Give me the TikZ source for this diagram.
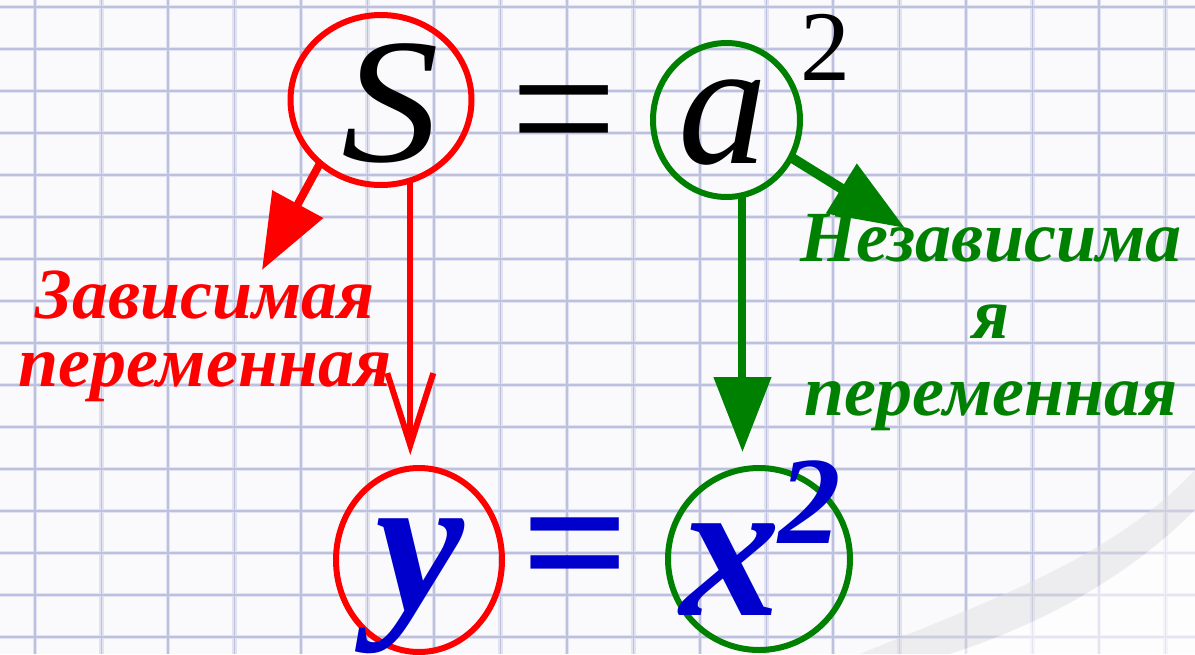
\documentclass[tikz,border=0pt]{standalone}
\usepackage{fontspec}
\setmainfont{LiberationSerif}[Extension=.ttf,UprightFont=*-Regular,ItalicFont=*-Italic,BoldFont=*-Bold,BoldItalicFont=*-BoldItalic]
\usetikzlibrary{shapes.geometric,arrows.meta,calc}
\definecolor{paper}{RGB}{250,250,253}
\definecolor{gridblue}{RGB}{190,192,224}
\definecolor{depred}{RGB}{255,0,0}
\definecolor{indgreen}{RGB}{0,128,0}
\definecolor{fnblue}{RGB}{0,0,204}
\begin{document}
\begin{tikzpicture}[x=1pt,y=-1pt,
  ring/.style={ellipse,draw,line width=6pt,inner sep=0pt,outer sep=0pt},
  bigvar/.style={inner sep=0pt,outer sep=0pt,anchor=base,font=\itshape\fontsize{178}{178}\selectfont},
  fnvar/.style={inner sep=0pt,outer sep=0pt,anchor=base,text=fnblue,font=\bfseries\itshape\fontsize{200}{200}\selectfont},
  caption/.style={inner sep=0pt,outer sep=0pt,align=center},
  gridline/.style={draw=gridblue,line width=1.6pt},
  gridhalo/.style={draw=gridblue!45,line width=4.5pt},
  fatarrow/.style={line width=8pt,-{Triangle[length=75pt,width=56pt]}}]
\useasboundingbox (0,0) rectangle (1195,654);
\clip (0,0) rectangle (1195,654);
\fill[paper] (0,0) rectangle (1195,654);
% squared paper
\foreach \gx in {0,...,17} \draw[gridhalo] ({35+66.5*\gx},0) -- ({35+66.5*\gx},654);
\foreach \gy in {0,...,15} \draw[gridhalo] (0,{7+42*\gy}) -- (1195,{7+42*\gy});
\foreach \gx in {0,...,17} \draw[gridline] ({35+66.5*\gx},0) -- ({35+66.5*\gx},654);
\foreach \gy in {0,...,15} \draw[gridline] (0,{7+42*\gy}) -- (1195,{7+42*\gy});
% page curl
\fill[gray!25,opacity=.45] (860,654) .. controls (990,600) and (1110,560) .. (1195,470) -- (1195,510) .. controls (1120,585) and (1030,628) .. (950,654) -- cycle;
\fill[white,opacity=.6] (950,654) .. controls (1030,628) and (1120,585) .. (1195,510) -- (1195,654) -- cycle;
% S = a^2
\node[ring,draw=depred,minimum width=181pt,minimum height=170pt] (sRing) at (381,100) {};
\node[ring,draw=indgreen,minimum width=147pt,minimum height=154pt] (aRing) at (726.5,120) {};
\node[bigvar] (sVar) at (390,161) {\scalebox{1.1}[1]{S}};
\node[bigvar,font=\fontsize{190}{190}\selectfont] (eqTop) at (564,172) {=};
\node[bigvar] (aVar) at (723,163) {a};
\node[bigvar,font=\fontsize{100}{100}\selectfont] (aPow) at (825,80) {2};
% y = x^2
\node[ring,draw=depred,minimum width=166pt,minimum height=184pt] (yRing) at (419,560) {};
\node[ring,draw=indgreen,minimum width=182pt,minimum height=182pt] (xRing) at (759,559) {};
\node[fnvar] (yVar) at (420,610) {y};
\node[fnvar,font=\bfseries\fontsize{190}{190}\selectfont] (eqBot) at (576,606) {=};
\node[fnvar] (xVar) at (730,615) {x};
\node[fnvar,font=\bfseries\itshape\fontsize{125}{125}\selectfont] (xPow) at (810,543) {2};
% labels
\node[caption,text=depred,font=\bfseries\itshape\fontsize{72}{68}\selectfont] (depLabel) at (205,336) {Зависимая\\переменная};
\node[caption,text=indgreen,font=\bfseries\itshape\fontsize{72}{77}\selectfont] (indLabel) at (991,323) {Независима\\я\\переменная};
\coordinate (depTip) at (262,270);
\coordinate (indTip) at (905,228);
% arrows
\draw[fatarrow,draw=depred,fill=depred] (sRing.-134) -- (depTip);
\draw[draw=depred,line width=6pt,shorten >=13pt,-{Straight Barb[length=72pt,width=46pt]}] (sRing.-70) -- (sRing.-70 |- yRing.north);
\draw[fatarrow,draw=indgreen,fill=indgreen] (aRing.-78) -- (aRing.-78 |- xRing.north) [shorten >=16pt];
\draw[fatarrow,draw=indgreen,fill=indgreen,line width=10pt] (aRing.-30) -- (indTip);
\end{tikzpicture}
\end{document}
